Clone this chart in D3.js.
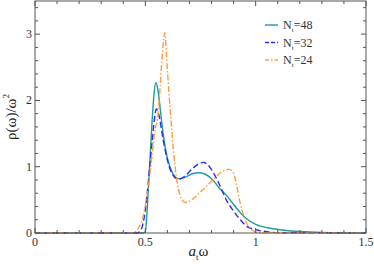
<!DOCTYPE html>
<html>
<head>
<meta charset="utf-8">
<script src="https://cdn.jsdelivr.net/npm/d3@7"></script>
<style>
  body { margin: 0; background: #fff; }
</style>
</head>
<body>
<svg id="chart"></svg>
<script>
// N_t = 48
const omega48 = [0, 0.49, 0.50, 0.51, 0.52, 0.53, 0.54, 0.548, 0.556, 0.57, 0.58, 0.60, 0.62, 0.65, 0.68, 0.71, 0.74, 0.77, 0.80, 0.84, 0.87, 0.90, 0.93, 0.96, 1.00, 1.06, 1.11, 1.20, 1.30, 1.50];
const rho48 = [0, 0, 0.02, 0.45, 1.05, 1.65, 2.12, 2.27, 2.18, 1.8, 1.52, 1.13, 0.93, 0.82, 0.84, 0.89, 0.91, 0.89, 0.82, 0.66, 0.56, 0.43, 0.31, 0.21, 0.13, 0.075, 0.05, 0.022, 0.008, 0];

// N_t = 32
const omega32 = [0, 0.46, 0.475, 0.49, 0.50, 0.51, 0.52, 0.53, 0.54, 0.55, 0.56, 0.58, 0.60, 0.62, 0.65, 0.68, 0.71, 0.74, 0.762, 0.78, 0.81, 0.84, 0.87, 0.90, 0.93, 0.96, 1.00, 1.05, 1.10, 1.50];
const rho32 = [0, 0, 0.02, 0.15, 0.35, 0.65, 1.0, 1.35, 1.68, 1.87, 1.8, 1.42, 1.1, 0.9, 0.81, 0.86, 0.96, 1.04, 1.065, 1.04, 0.9, 0.7, 0.48, 0.33, 0.2, 0.1, 0.05, 0.02, 0.005, 0];

// N_t = 24
const omega24 = [0, 0.44, 0.455, 0.47, 0.49, 0.51, 0.53, 0.545, 0.555, 0.565, 0.575, 0.588, 0.60, 0.615, 0.63, 0.65, 0.68, 0.71, 0.75, 0.80, 0.85, 0.88, 0.90, 0.915, 0.93, 0.95, 0.97, 0.99, 1.01, 1.50];
const rho24 = [0, 0, 0.02, 0.08, 0.25, 0.62, 1.15, 1.58, 1.72, 2.1, 2.6, 3.02, 2.45, 1.75, 1.15, 0.66, 0.46, 0.5, 0.62, 0.78, 0.93, 0.96, 0.9, 0.7, 0.45, 0.22, 0.09, 0.03, 0.005, 0];

const seriesNames = ["48", "32", "24"];
const xTicks = [0, 0.5, 1, 1.5];
const yTicks = [0, 1, 2, 3];

const width = 374, height = 268;
const margin = { top: 1, right: 8, bottom: 35, left: 35 };
const serif = "'Liberation Serif', 'DejaVu Serif', serif";

const svg = d3.select("#chart").attr("width", width).attr("height", height)
    .style("font-family", serif);

const x = d3.scaleLinear().domain([0, 1.5]).range([margin.left, width - margin.right]);
const y = d3.scaleLinear().domain([0, 3.5]).range([height - margin.bottom, margin.top]);

const series = [
  { name: seriesNames[0], xs: omega48, ys: rho48, color: "#1f9a9e", dash: null, legendDash: null },
  { name: seriesNames[1], xs: omega32, ys: rho32, color: "#2a2af5", dash: "6,3", legendDash: "4,2" },
  { name: seriesNames[2], xs: omega24, ys: rho24, color: "#ff9d3a", dash: "6,2,1.5,2", legendDash: "4,2,1.5,2" }
];

const line = d3.line()
    .x(d => x(d[0]))
    .y(d => y(d[1]))
    .curve(d3.curveMonotoneX);

const plot = svg.append("g");
series.forEach(s => {
  plot.append("path")
      .datum(s.xs.map((v, i) => [v, s.ys[i]]))
      .attr("fill", "none")
      .attr("stroke", s.color)
      .attr("stroke-width", 1.4)
      .attr("stroke-dasharray", s.dash)
      .attr("d", line);
});

// frame
const x0 = x.range()[0], x1 = x.range()[1], y0 = y.range()[0], y1 = y.range()[1];
svg.append("rect")
    .attr("x", x0).attr("y", y1)
    .attr("width", x1 - x0).attr("height", y0 - y1)
    .attr("fill", "none").attr("stroke", "#555").attr("stroke-width", 1);

// ticks (inward, all four sides)
const minorX = d3.range(0, 1.5001, 0.1);
const minorY = d3.range(0, 3.5001, 0.2);
const tickG = svg.append("g").attr("stroke", "#555").attr("stroke-width", 1);
minorX.forEach(v => {
  const major = xTicks.some(t => Math.abs(t - v) < 1e-6);
  const len = major ? 5 : 3;
  tickG.append("line").attr("x1", x(v)).attr("x2", x(v)).attr("y1", y0).attr("y2", y0 - len);
  tickG.append("line").attr("x1", x(v)).attr("x2", x(v)).attr("y1", y1).attr("y2", y1 + len);
});
minorY.forEach(v => {
  const major = yTicks.some(t => Math.abs(t - v) < 1e-6);
  const len = major ? 5 : 3;
  tickG.append("line").attr("y1", y(v)).attr("y2", y(v)).attr("x1", x0).attr("x2", x0 + len);
  tickG.append("line").attr("y1", y(v)).attr("y2", y(v)).attr("x1", x1).attr("x2", x1 - len);
});

// tick labels
svg.append("g").selectAll("text").data(xTicks).join("text")
    .attr("x", d => x(d)).attr("y", y0 + 13)
    .attr("text-anchor", "middle").attr("font-size", 12).attr("fill", "#333")
    .text(d => d);
svg.append("g").selectAll("text").data(yTicks).join("text")
    .attr("x", x0 - 3).attr("y", d => y(d) + 4)
    .attr("text-anchor", "end").attr("font-size", 12).attr("fill", "#333")
    .text(d => d);

// axis titles
const xt = svg.append("text")
    .attr("x", (x0 + x1) / 2 - 2).attr("y", 256)
    .attr("text-anchor", "middle").attr("font-size", 15).attr("fill", "#222");
xt.append("tspan").attr("font-style", "italic").text("a");
xt.append("tspan").attr("font-size", 9).attr("dy", 4).text("t");
xt.append("tspan").attr("dy", -4).text("ω");

const yt = svg.append("text")
    .attr("transform", `translate(16,${(y0 + y1) / 2}) rotate(-90)`)
    .attr("text-anchor", "middle").attr("font-size", 15).attr("fill", "#222");
yt.append("tspan").text("ρ(ω)/ω");
yt.append("tspan").attr("font-size", 9).attr("dy", -7).text("2");

// legend
const legend = svg.append("g");
series.forEach((s, i) => {
  const ly = 25 + i * 17.5;
  legend.append("line")
      .attr("x1", 265).attr("x2", 278).attr("y1", ly).attr("y2", ly)
      .attr("stroke", s.color).attr("stroke-width", 1.4)
      .attr("stroke-dasharray", s.legendDash);
  const t = legend.append("text")
      .attr("x", 283).attr("y", ly + 4)
      .attr("font-size", 12).attr("fill", "#333");
  t.append("tspan").text("N");
  t.append("tspan").attr("font-size", 7).attr("dy", 3).text("t");
  t.append("tspan").attr("dy", -3).text("=" + s.name);
});
</script>
</body>
</html>
